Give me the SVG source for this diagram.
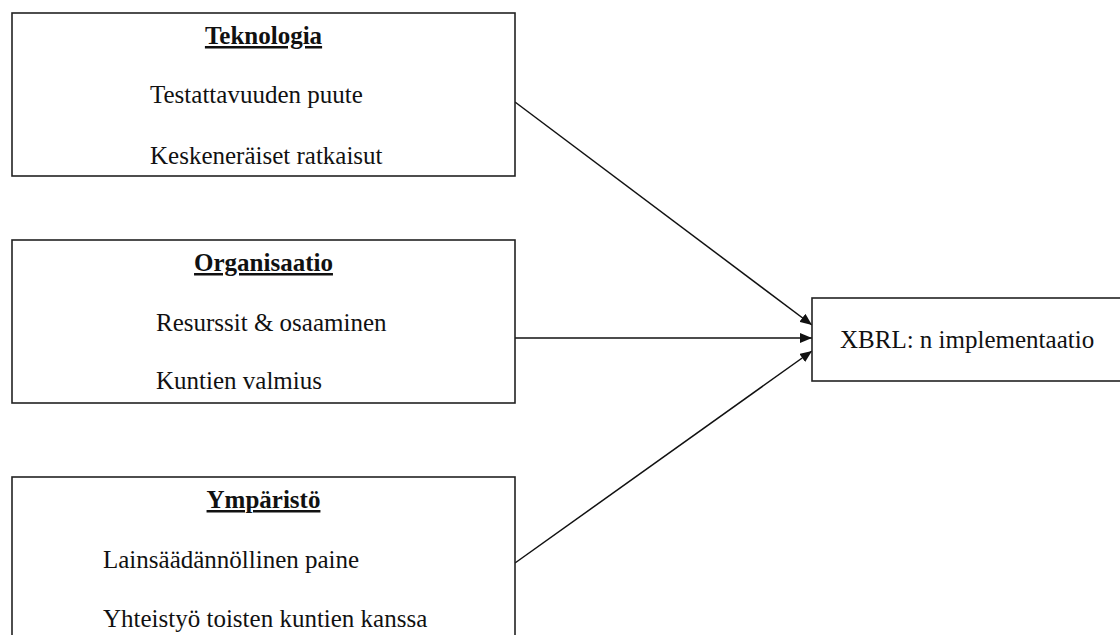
<svg xmlns="http://www.w3.org/2000/svg" width="1120" height="635" viewBox="0 0 1120 635">
<defs>
<style>
.box{fill:#fff;stroke:#222;stroke-width:1.6}
.t{font-family:"Liberation Serif","Times New Roman",serif;font-size:25px;fill:#111}
.h{font-weight:bold;text-anchor:middle;text-decoration:underline}
.c{stroke:#111;stroke-width:1.5;fill:none;marker-end:url(#arr)}
</style>
<marker id="arr" viewBox="0 0 12 10" refX="12" refY="5" markerWidth="12" markerHeight="10" markerUnits="userSpaceOnUse" orient="auto">
<path d="M0,0 L12,5 L0,10 Z" fill="#111"/>
</marker>
</defs>
<rect width="1120" height="635" fill="#fff"/>
<g id="connectors">
<line class="c" x1="515" y1="102" x2="812" y2="325"/>
<line class="c" x1="515" y1="338" x2="812" y2="338"/>
<line class="c" x1="515" y1="563" x2="812" y2="351"/>
</g>
<g id="teknologia">
<rect class="box" x="12" y="13" width="503" height="163"/>
<text class="t h" x="263.5" y="44">Teknologia</text>
<text class="t" x="150" y="103">Testattavuuden puute</text>
<text class="t" x="150" y="164">Keskeneräiset ratkaisut</text>
</g>
<g id="organisaatio">
<rect class="box" x="12" y="240" width="503" height="163"/>
<text class="t h" x="263.5" y="271">Organisaatio</text>
<text class="t" x="156" y="331">Resurssit &amp; osaaminen</text>
<text class="t" x="156" y="389">Kuntien valmius</text>
</g>
<g id="ymparisto">
<rect class="box" x="12" y="477" width="503" height="170"/>
<text class="t h" x="263.5" y="508">Ympäristö</text>
<text class="t" x="103" y="568">Lainsäädännöllinen paine</text>
<text class="t" x="103" y="627">Yhteistyö toisten kuntien kanssa</text>
</g>
<g id="xbrl">
<rect class="box" x="812" y="298" width="312" height="83"/>
<text class="t" x="840" y="348">XBRL: n implementaatio</text>
</g>
</svg>
